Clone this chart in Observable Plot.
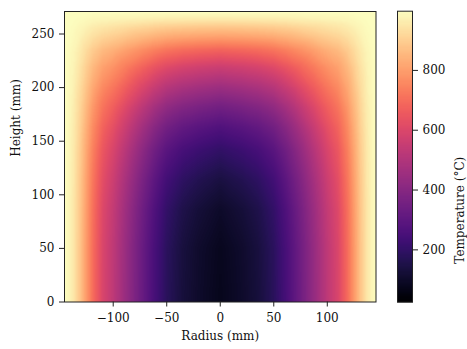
<!DOCTYPE html>
<html><head><meta charset="utf-8">
<script src="https://cdn.jsdelivr.net/npm/d3@7"></script>
<script src="https://cdn.jsdelivr.net/npm/@observablehq/plot@0.6"></script>
<style>
body{margin:0;background:#fff}
#wrap{position:relative;width:467px;height:349px;background:#fff}
#wrap svg{position:absolute;top:0}
</style>
</head><body><div id="wrap"></div>
<script>
// radial positions (mm), field is symmetric about r = 0
const radii = [0, 20, 35, 50, 62, 72, 87, 100, 110, 119, 125, 131, 137, 142, 145.5];
// heights (mm)
const heights = [0, 50, 86, 114, 142, 163, 182, 200, 219, 235, 247, 256, 263, 268, 271];
// temperatures (°C): one row per height, one column per radius
const temps = [
  [75, 102, 130, 180, 250, 320, 430, 530, 596, 700, 790, 880, 950, 984, 998],
  [80, 106, 135, 184, 254, 323, 433, 532, 598, 701, 791, 880, 950, 984, 998],
  [100, 126, 154, 202, 271, 338, 446, 543, 607, 708, 796, 883, 951, 985, 998],
  [140, 165, 191, 237, 303, 367, 470, 563, 625, 721, 805, 888, 953, 985, 998],
  [200, 223, 248, 291, 351, 411, 507, 593, 651, 740, 818, 896, 956, 986, 998],
  [269, 290, 313, 352, 407, 462, 550, 628, 681, 762, 834, 905, 960, 987, 998],
  [352, 371, 391, 425, 475, 523, 601, 670, 717, 789, 853, 915, 964, 988, 998],
  [450, 466, 483, 512, 554, 595, 661, 720, 760, 821, 875, 928, 970, 990, 998],
  [560, 572, 586, 610, 643, 676, 728, 776, 807, 856, 899, 942, 975, 991, 998],
  [680, 689, 699, 716, 740, 764, 802, 837, 859, 895, 926, 957, 981, 993, 998],
  [800, 805, 812, 822, 837, 852, 876, 897, 912, 934, 953, 973, 988, 995, 998],
  [880, 883, 887, 893, 902, 911, 925, 938, 947, 960, 971, 983, 992, 996, 998],
  [950, 951, 953, 955, 959, 963, 968, 974, 977, 982, 987, 992, 995, 997, 998],
  [984, 985, 985, 986, 987, 988, 989, 991, 992, 993, 995, 996, 997, 998, 998],
  [998, 998, 998, 998, 998, 998, 998, 998, 998, 998, 998, 998, 998, 998, 998]
];
const xTicks = [-100, -50, 0, 50, 100];
const yTicks = [0, 50, 100, 150, 200, 250];
const cbTicks = [200, 400, 600, 800];
const tempRange = [25, 998];
const xDomain = [-145.5, 145.5];
const yDomain = [0, 271];

const points = [];
heights.forEach((z, i) => {
  radii.forEach((r, j) => {
    points.push({r, z, t: temps[i][j]});
    if (r > 0) points.push({r: -r, z, t: temps[i][j]});
  });
});

const font = {fontFamily: "'DejaVu Serif', serif", fontSize: "12px", background: "transparent", color: "#111"};
const colorOpts = {type: "linear", scheme: "magma", domain: tempRange};

const main = Plot.plot({
  width: 467, height: 349,
  marginLeft: 64, marginRight: 91.5, marginTop: 11, marginBottom: 47.5,
  style: font,
  x: {domain: xDomain},
  y: {domain: yDomain},
  color: colorOpts,
  marks: [
    Plot.raster(points, {x: "r", y: "z", fill: "t", interpolate: "barycentric", pixelSize: 1}),
    Plot.frame({stroke: "#222", strokeWidth: 1}),
    Plot.axisX({ticks: xTicks, tickSize: 5, tickPadding: 6, label: null, stroke: "#222"}),
    Plot.axisY({ticks: yTicks, tickSize: 5, tickPadding: 5, label: null, stroke: "#222"}),
    Plot.text(["Radius (mm)"], {frameAnchor: "bottom", dy: 38, text: d => d}),
    Plot.text(["Height (mm)"], {frameAnchor: "left", dx: -48, rotate: -90, text: d => d})
  ]
});

const cb = Plot.plot({
  width: 75, height: 349,
  marginLeft: 5, marginRight: 55, marginTop: 10.7, marginBottom: 47.3,
  style: font,
  x: {domain: [0, 1], axis: null},
  y: {domain: tempRange, axis: null},
  color: colorOpts,
  marks: [
    Plot.raster({x1: 0, x2: 1, y1: tempRange[0], y2: tempRange[1], fill: (x, y) => y, pixelSize: 1}),
    Plot.frame({stroke: "#222", strokeWidth: 1}),
    Plot.axisY({anchor: "right", ticks: cbTicks, tickSize: 5, tickPadding: 5, label: null, stroke: "#222"}),
    Plot.text(["Temperature (°C)"], {frameAnchor: "right", dx: 48, rotate: -90, text: d => d})
  ]
});
cb.style.left = "392px";
main.style.left = "0px";

const wrap = document.getElementById("wrap");
wrap.appendChild(main);
wrap.appendChild(cb);
</script>
</body></html>
